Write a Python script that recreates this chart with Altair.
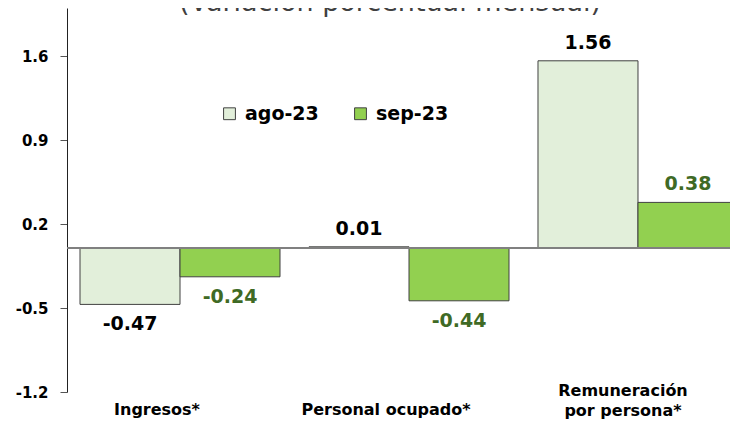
import altair as alt
import pandas as pd

categories = ["Ingresos*", "Personal ocupado*", "Remuneración|por persona*"]
series = ["ago-23", "sep-23"]
ago_values = [-0.47, 0.01, 1.56]
sep_values = [-0.24, -0.44, 0.38]
y_ticks = [-1.2, -0.5, 0.2, 0.9, 1.6]
title_text = "(Variación porcentual mensual)"

rows = []
for c, a, s in zip(categories, ago_values, sep_values):
    rows.append({"cat": c, "serie": series[0], "valor": a})
    rows.append({"cat": c, "serie": series[1], "valor": s})
df = pd.DataFrame(rows)
title_df = pd.DataFrame({"t": [title_text]})

FONT = "DejaVu Sans"
GREEN_TXT = "#3F6A25"
MULTI = "indexof(datum.label, '|') >= 0"

x_enc = alt.X(
    "cat:N",
    sort=categories,
    scale=alt.Scale(paddingInner=0.1266, paddingOuter=0.0284, align=1),
    axis=alt.Axis(
        title=None, domain=False, ticks=False, labelAngle=0,
        labelExpr="split(datum.label, '|')",
        labelFont=FONT, labelFontWeight="bold", labelFontSize=16, labelColor="black",
        labelBaseline="top", labelLineHeight=20,
        labelPadding={"condition": {"test": MULTI, "value": -10}, "value": 9},
        labelOffset={"condition": {"test": MULTI, "value": -15}, "value": -23},
    ),
)
xoff = alt.XOffset("serie:N", sort=series, scale=alt.Scale(paddingInner=0, paddingOuter=0))
y_enc = alt.Y(
    "valor:Q",
    scale=alt.Scale(domain=[-1.2, 2.0], nice=False, zero=False),
    axis=alt.Axis(
        title=None, values=y_ticks, grid=False,
        labelExpr="replace(format(datum.value, '.1f'), '\u2212', '-')",
        domainColor="#222", domainWidth=1, tickColor="#555", tickSize=7,
        labelFont=FONT, labelFontWeight="bold", labelFontSize=15, labelColor="black",
        labelPadding=12,
    ),
)

base = alt.Chart(df).transform_calculate(
    etiqueta="replace(format(datum.valor, '.2f'), '\u2212', '-')"
)

bars = base.mark_bar(stroke="#404040", strokeWidth=1).encode(
    x=x_enc,
    xOffset=xoff,
    y=y_enc,
    color=alt.Color(
        "serie:N",
        scale=alt.Scale(domain=series, range=["#E2EFDA", "#92D050"]),
        legend=alt.Legend(
            title=None, orient="none", legendX=153, legendY=96, direction="horizontal",
            symbolType="square", symbolSize=140, symbolStrokeColor="#404040",
            symbolStrokeWidth=1, labelFont=FONT, labelFontWeight="bold",
            labelFontSize=19, labelColor="black", columnPadding=32, labelOffset=6,
        ),
    ),
)

zero = alt.Chart(df).mark_rule(color="#808080", strokeWidth=1.5).encode(y=alt.datum(0))

txt_color = alt.condition(alt.datum.serie == "ago-23", alt.value("black"), alt.value(GREEN_TXT))

pos_text = base.transform_filter(alt.datum.valor >= 0).mark_text(
    font=FONT, fontWeight="bold", fontSize=19, baseline="middle", dy=-18
).encode(x=x_enc, xOffset=xoff, y=y_enc, text="etiqueta:N", color=txt_color)

neg_text = base.transform_filter(alt.datum.valor < 0).mark_text(
    font=FONT, fontWeight="bold", fontSize=19, baseline="middle", dy=20
).encode(x=x_enc, xOffset=xoff, y=y_enc, text="etiqueta:N", color=txt_color)

title_mark = alt.Chart(title_df).mark_text(
    font=FONT, fontSize=27, fontWeight="normal", color="#404040",
    align="center", baseline="alphabetic",
).encode(x=alt.value(323), y=alt.value(3), text="t:N")

chart = alt.layer(bars, zero, pos_text, neg_text, title_mark).properties(
    width=671, height=384,
    autosize=alt.AutoSizeParams(type="none"),
    padding={"left": 59, "top": 0, "right": -8, "bottom": 30},
).configure_view(stroke=None)

chart.save("out.html", embed_options={"renderer": "svg", "actions": False})
